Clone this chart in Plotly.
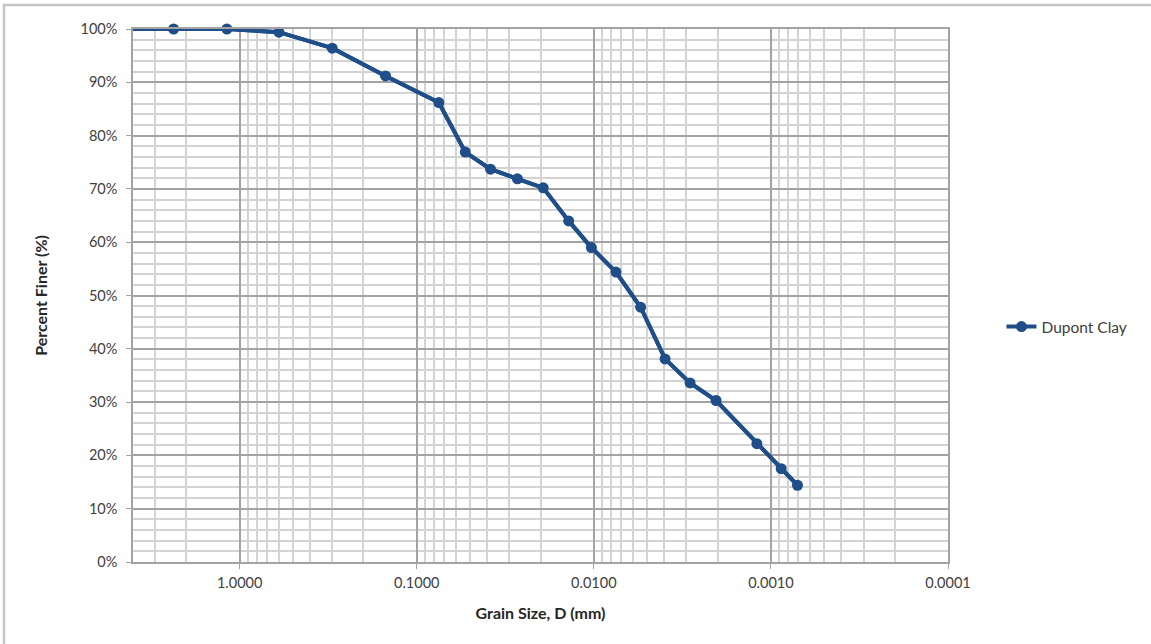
import numpy as np
import plotly.graph_objects as go

# Data
grain_size_mm = [4.75, 2.36, 1.18, 0.600, 0.300, 0.150, 0.075, 0.0532, 0.0383, 0.0270,
                 0.0193, 0.01387, 0.01032, 0.0075, 0.00544, 0.00396, 0.00286, 0.00204,
                 0.00120, 0.000875, 0.000708]
percent_finer = [100, 100, 100, 99.4, 96.4, 91.2, 86.2, 76.9, 73.7, 71.9,
                 70.2, 64.0, 59.0, 54.4, 47.8, 38.1, 33.6, 30.3,
                 22.2, 17.5, 14.4]
series_name = "Dupont Clay"

x_tick_vals = [1, 0.1, 0.01, 0.001, 0.0001]
x_tick_text = ["1.0000", "0.1000", "0.0100", "0.0010", "0.0001"]

BLUE = "#1F4E89"
MAJOR = "#A3A3A3"
MINOR = "#D3D3D3"
FONT = "Lato, Open Sans, sans-serif"

fig = go.Figure()
# full curve (including points beyond the axis range), lines only
fig.add_trace(go.Scatter(x=grain_size_mm, y=percent_finer, mode="lines",
                         line=dict(color=BLUE, width=4), showlegend=False,
                         hoverinfo="skip"))
# visible points with markers
fig.add_trace(go.Scatter(x=grain_size_mm[1:], y=percent_finer[1:], mode="lines+markers",
                         name=series_name, line=dict(color=BLUE, width=4),
                         marker=dict(color=BLUE, size=11), cliponaxis=False))

fig.update_xaxes(type="log", range=[np.log10(4), -4], automargin=False,
                 tickvals=x_tick_vals, ticktext=x_tick_text,
                 showgrid=True, gridcolor=MAJOR, gridwidth=1.5,
                 minor=dict(dtick="D1", showgrid=True, gridcolor=MINOR, gridwidth=1.5,
                            ticks=""),
                 showline=True, linecolor=MAJOR, linewidth=1.5, mirror=True,
                 ticks="outside", ticklen=5, tickcolor=MAJOR, ticklabelstandoff=2,
                 tickfont=dict(family=FONT, size=14.5, color="#404040"),
                 title=dict(text="<b>Grain Size, D (mm)</b>", standoff=18,
                            font=dict(family=FONT, size=16, color="#262626")),
                 zeroline=False)
fig.update_yaxes(range=[0, 100], dtick=10, ticksuffix="%", automargin=False,
                 showgrid=True, gridcolor=MAJOR, gridwidth=1.5,
                 minor=dict(dtick=2, showgrid=True, gridcolor=MINOR, gridwidth=1.5, ticks=""),
                 showline=True, linecolor=MAJOR, linewidth=1.5, mirror=True,
                 ticks="outside", ticklen=5, tickcolor=MAJOR, ticklabelstandoff=6,
                 tickfont=dict(family=FONT, size=14.5, color="#404040"),
                 title=dict(text="<b>Percent Finer (%)</b>", standoff=29,
                            font=dict(family=FONT, size=16, color="#262626")),
                 zeroline=False)

fig.add_shape(type="rect", xref="paper", yref="paper",
              x0=-0.1583, x1=1.4, y0=-0.3, y1=1.045,
              line=dict(color="#C4C4C4", width=2.5), layer="below")

fig.update_layout(
    width=1151, height=644,
    margin=dict(l=133, r=203, t=29, b=82),
    paper_bgcolor="white", plot_bgcolor="white",
    font=dict(family=FONT, size=14, color="#404040"),
    legend=dict(x=1.0656, y=0.441, xanchor="left", yanchor="middle",
                font=dict(family=FONT, size=15.5, color="#404040"),
                bgcolor="rgba(0,0,0,0)", itemwidth=30),
)

fig.write_html("out.html")
